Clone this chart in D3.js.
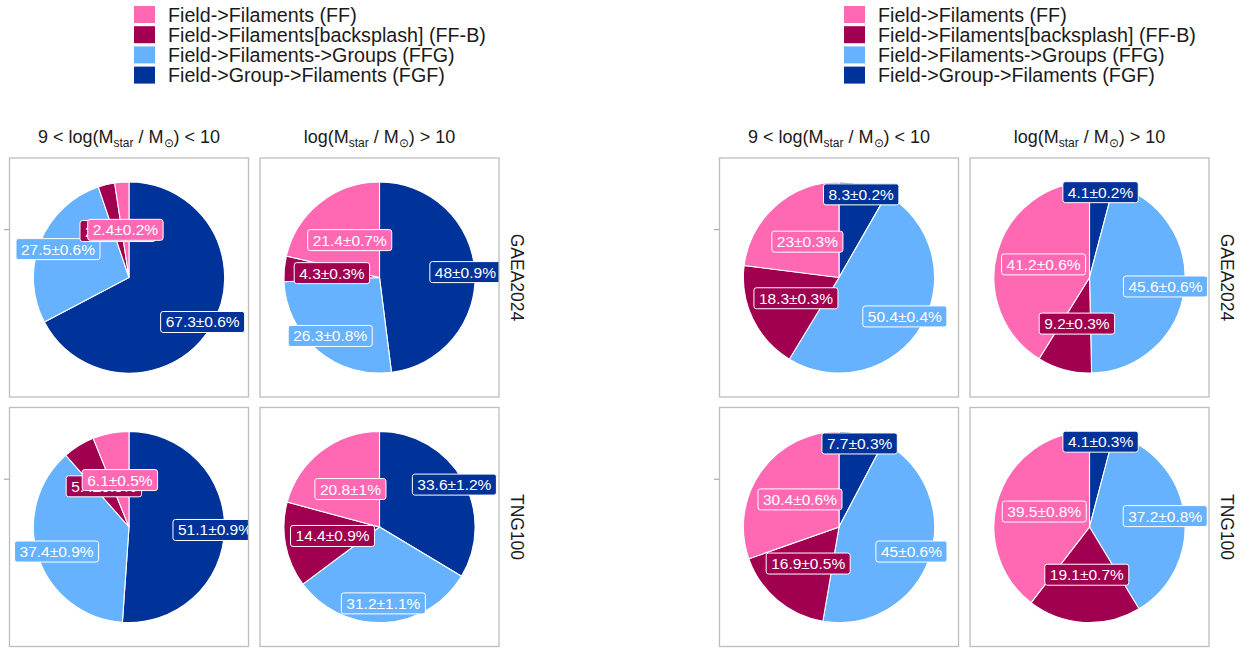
<!DOCTYPE html>
<html>
<head>
<meta charset="utf-8">
<script src="https://cdn.jsdelivr.net/npm/d3@7"></script>
<style>
  body { margin: 0; background: #fff; }
  svg { display: block; }
  text { font-family: "Liberation Sans", Arial, Helvetica, sans-serif; }
</style>
</head>
<body>
<svg id="chart" width="1250" height="648"></svg>
<script>
// categories in legend order
const categories = ['FF', 'FF-B', 'FFG', 'FGF'];
const legendLabels = [
  'Field->Filaments (FF)',
  'Field->Filaments[backsplash] (FF-B)',
  'Field->Filaments->Groups (FFG)',
  'Field->Group->Filaments (FGF)'
];
const fillColors = ['#ff69b4', '#a0004f', '#66b2ff', '#003399'];
// radial (x) position of each label, bar spans 0.5 .. 1.5
const labelX = [1, 1, 1.3, 1.4];

const simulations = ['GAEA2024', 'TNG100'];
const binPrefix = ['9 < log(', 'log('];
const binSuffix = [') < 10', ') > 10'];

// [simulation][mass bin][category]  (percent)
const valuesLeft = [
  [[2.4, 2.8, 27.5, 67.3], [21.4, 4.3, 26.3, 48]],
  [[6.1, 5.4, 37.4, 51.1], [20.8, 14.4, 31.2, 33.6]]
];
const errorsLeft = [
  [[0.2, 0.2, 0.6, 0.6], [0.7, 0.3, 0.8, 0.9]],
  [[0.5, 0.5, 0.9, 0.9], [1, 0.9, 1.1, 1.2]]
];
const valuesRight = [
  [[23, 18.3, 50.4, 8.3], [41.2, 9.2, 45.6, 4.1]],
  [[30.4, 16.9, 45, 7.7], [39.5, 19.1, 37.2, 4.1]]
];
const errorsRight = [
  [[0.3, 0.3, 0.4, 0.2], [0.6, 0.3, 0.6, 0.2]],
  [[0.6, 0.5, 0.6, 0.3], [0.8, 0.7, 0.8, 0.3]]
];

const svg = d3.select('#chart');
const panelSize = 239;
const panelX = [9.5, 260];
const panelY = [158, 407.5];

const rScale = d3.scaleLinear().domain([0.5, 1.5]).range([0, panelSize * 0.4]);
const arc = d3.arc().innerRadius(0).outerRadius(rScale(1.5));
// clockwise from 12 o'clock: FGF, FFG, FF-B, FF
const pie = d3.pie().sort(null).startAngle(0).endAngle(2 * Math.PI);
const drawOrder = [3, 2, 1, 0];

let clipId = 0;

function drawFigure(offsetX, values, errors) {
  // legend
  const legend = svg.append('g').attr('transform', `translate(${offsetX + 134},6)`);
  categories.forEach((c, i) => {
    legend.append('rect')
      .attr('x', 0).attr('y', i * 20.2)
      .attr('width', 21).attr('height', 17)
      .attr('fill', fillColors[i]);
    legend.append('text')
      .attr('x', 34).attr('y', i * 20.2 + 8.5)
      .attr('dominant-baseline', 'central')
      .style('font-size', '19.7px')
      .attr('fill', '#1a1a1a')
      .text(legendLabels[i]);
  });

  // column strips
  binPrefix.forEach((pre, c) => {
    const t = svg.append('text')
      .attr('x', offsetX + panelX[c] + panelSize / 2)
      .attr('y', 143)
      .attr('text-anchor', 'middle')
      .style('font-size', '18px')
      .attr('fill', '#1a1a1a');
    t.append('tspan').text(pre + 'M');
    t.append('tspan').attr('dy', 4).style('font-size', '12px').text('star');
    t.append('tspan').attr('dy', -4).text(' / M');
    t.append('tspan').attr('dy', 4).style('font-size', '12px').text('\u2299');
    t.append('tspan').attr('dy', -4).text(binSuffix[c]);
  });

  simulations.forEach((sim, r) => {
    const cy = panelY[r] + panelSize / 2;

    // row strip
    svg.append('text')
      .attr('transform', `translate(${offsetX + 517},${cy}) rotate(90)`)
      .attr('text-anchor', 'middle')
      .attr('dominant-baseline', 'central')
      .style('font-size', '17.5px')
      .attr('fill', '#1a1a1a')
      .text(sim);

    // axis tick at x = 1
    svg.append('line')
      .attr('x1', offsetX + panelX[0] - 5.5).attr('x2', offsetX + panelX[0])
      .attr('y1', cy - rScale(1)).attr('y2', cy - rScale(1))
      .attr('stroke', '#999').attr('stroke-width', 1);

    binPrefix.forEach((_, c) => {
      const vals = values[r][c];
      const errs = errors[r][c];
      const g = svg.append('g')
        .attr('transform', `translate(${offsetX + panelX[c]},${panelY[r]})`);

      const id = 'clip' + (clipId++);
      g.append('clipPath').attr('id', id)
        .append('rect').attr('width', panelSize).attr('height', panelSize);

      const inner = g.append('g').attr('clip-path', `url(#${id})`);
      inner.append('rect')
        .attr('width', panelSize).attr('height', panelSize)
        .attr('fill', '#fff');

      const pg = inner.append('g')
        .attr('transform', `translate(${panelSize / 2},${panelSize / 2})`);

      const slices = pie.value(i => vals[i])(drawOrder);

      pg.selectAll('path.slice')
        .data(slices)
        .join('path')
        .attr('class', 'slice')
        .attr('d', arc)
        .attr('fill', d => fillColors[d.data])
        .attr('stroke', '#fff')
        .attr('stroke-width', 1.1);

      slices.forEach(d => {
        const i = d.data;
        const a = (d.startAngle + d.endAngle) / 2;
        const rr = rScale(labelX[i]);
        const x = rr * Math.sin(a);
        const y = -rr * Math.cos(a);
        const lg = pg.append('g').attr('transform', `translate(${x},${y})`);
        const box = lg.append('rect');
        const txt = lg.append('text')
          .attr('text-anchor', 'middle')
          .attr('dominant-baseline', 'central')
          .style('font-size', '15.5px')
          .attr('fill', '#fff')
          .text(`${vals[i]}\u00b1${errs[i]}%`);
        const w = txt.node().getComputedTextLength() + 10;
        const h = 21;
        box.attr('x', -w / 2).attr('y', -h / 2)
          .attr('width', w).attr('height', h)
          .attr('rx', 2.5).attr('ry', 2.5)
          .attr('fill', fillColors[i])
          .attr('stroke', '#fff')
          .attr('stroke-width', 1);
      });

      g.append('rect')
        .attr('width', panelSize).attr('height', panelSize)
        .attr('fill', 'none')
        .attr('stroke', '#bdbdbd')
        .attr('stroke-width', 1.3);
    });
  });
}

drawFigure(0, valuesLeft, errorsLeft);
drawFigure(710, valuesRight, errorsRight);
</script>
</body>
</html>
